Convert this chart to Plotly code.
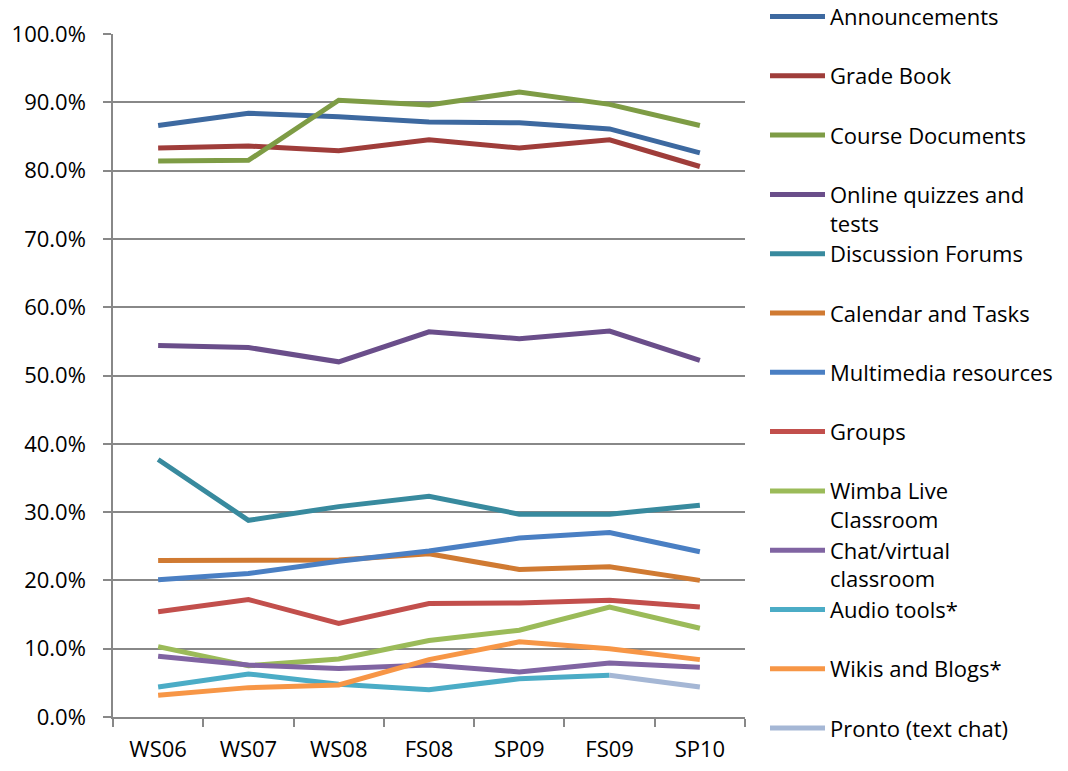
import plotly.graph_objects as go

categories = ["WS06", "WS07", "WS08", "FS08", "SP09", "FS09", "SP10"]

announcements = [86.6, 88.4, 87.9, 87.1, 87.0, 86.1, 82.6]
grade_book = [83.3, 83.6, 82.9, 84.5, 83.3, 84.5, 80.6]
course_documents = [81.4, 81.5, 90.3, 89.6, 91.5, 89.7, 86.6]
online_quizzes = [54.4, 54.1, 52.0, 56.4, 55.4, 56.5, 52.2]
discussion_forums = [37.7, 28.8, 30.8, 32.3, 29.7, 29.7, 31.0]
calendar_tasks = [22.9, 23.0, 23.0, 23.9, 21.6, 22.0, 20.0]
multimedia = [20.1, 21.0, 22.8, 24.3, 26.2, 27.0, 24.2]
groups = [15.4, 17.2, 13.7, 16.6, 16.7, 17.1, 16.1]
wimba = [10.3, 7.5, 8.5, 11.2, 12.7, 16.1, 13.0]
chat_virtual = [8.9, 7.6, 7.1, 7.6, 6.6, 7.9, 7.3]
audio_tools = [4.4, 6.3, 4.8, 4.0, 5.6, 6.1, None]
wikis_blogs = [3.2, 4.3, 4.7, 8.4, 11.0, 10.0, 8.4]
pronto = [None, None, None, None, None, 6.1, 4.4]

series = [
    ("Announcements", announcements, "#3D69A0"),
    ("Grade Book", grade_book, "#9F3D3A"),
    ("Course Documents", course_documents, "#7E9C45"),
    ("Online quizzes and<br>tests", online_quizzes, "#6A4E8A"),
    ("Discussion Forums", discussion_forums, "#388A9E"),
    ("Calendar and Tasks", calendar_tasks, "#D07A32"),
    ("Multimedia resources", multimedia, "#4A7FC3"),
    ("Groups", groups, "#C24F4C"),
    ("Wimba Live<br>Classroom", wimba, "#9BBB59"),
    ("Chat/virtual<br>classroom", chat_virtual, "#8064A2"),
    ("Audio tools*", audio_tools, "#4BACC6"),
    ("Wikis and Blogs*", wikis_blogs, "#F79646"),
    ("Pronto (text chat)", pronto, "#A5B7D5"),
]

FONT = "Open Sans"
fig = go.Figure()

# page offset (body margin) compensated: plot area in figure pixels
OFF = 8
L, R, T, B = 113 - OFF, 745 - OFF, 34.3 - OFF, 717.3 - OFF
W, H = 1068, 771

legend_layout = {}
for i, (name, vals, color) in enumerate(series):
    lname = "legend" if i == 0 else f"legend{i+1}"
    fig.add_trace(go.Scatter(
        x=categories, y=vals, name=name, mode="lines",
        line=dict(color=color, width=5),
        legend=lname, hoverinfo="skip", connectgaps=False,
    ))
    yc = 17 + 59.3 * i
    ytop = yc - 21 - OFF
    legend_layout[lname] = dict(
        x=(765 - OFF - L) / (R - L), xanchor="left",
        y=(B - ytop) / (B - T), yanchor="top",
        valign="top", itemwidth=55,
        bgcolor="rgba(0,0,0,0)", borderwidth=0,
        font=dict(family=FONT, size=22, color="#000000"),
        tracegroupgap=0,
    )

fig.update_layout(
    width=W, height=H,
    margin=dict(l=L, r=W - R, t=T, b=H - B, pad=0, autoexpand=False),
    plot_bgcolor="white", paper_bgcolor="white",
    showlegend=True,
    font=dict(family=FONT, size=22, color="#000000"),
    xaxis=dict(
        type="category", categoryorder="array", categoryarray=categories,
        range=[-0.5, len(categories) - 0.5],
        tickson="boundaries", ticks="outside", ticklen=8,
        tickcolor="#888888", tickwidth=1.5,
        showline=True, linecolor="#888888", linewidth=1.5,
        showgrid=False, zeroline=False,
        tickfont=dict(family=FONT, size=22, color="#000000"),
        ticklabelstandoff=12,
    ),
    yaxis=dict(
        range=[0, 100], dtick=10, tick0=0,
        ticksuffix="%", tickformat=".1f",
        ticks="outside", ticklen=8, tickcolor="#888888", tickwidth=1.5,
        showline=True, linecolor="#888888", linewidth=1.5,
        showgrid=True, gridcolor="#888888", gridwidth=1.5,
        zeroline=False,
        tickfont=dict(family=FONT, size=22, color="#000000"),
        ticklabelstandoff=13,
    ),
    **legend_layout,
)

fig.write_html("out.html")
